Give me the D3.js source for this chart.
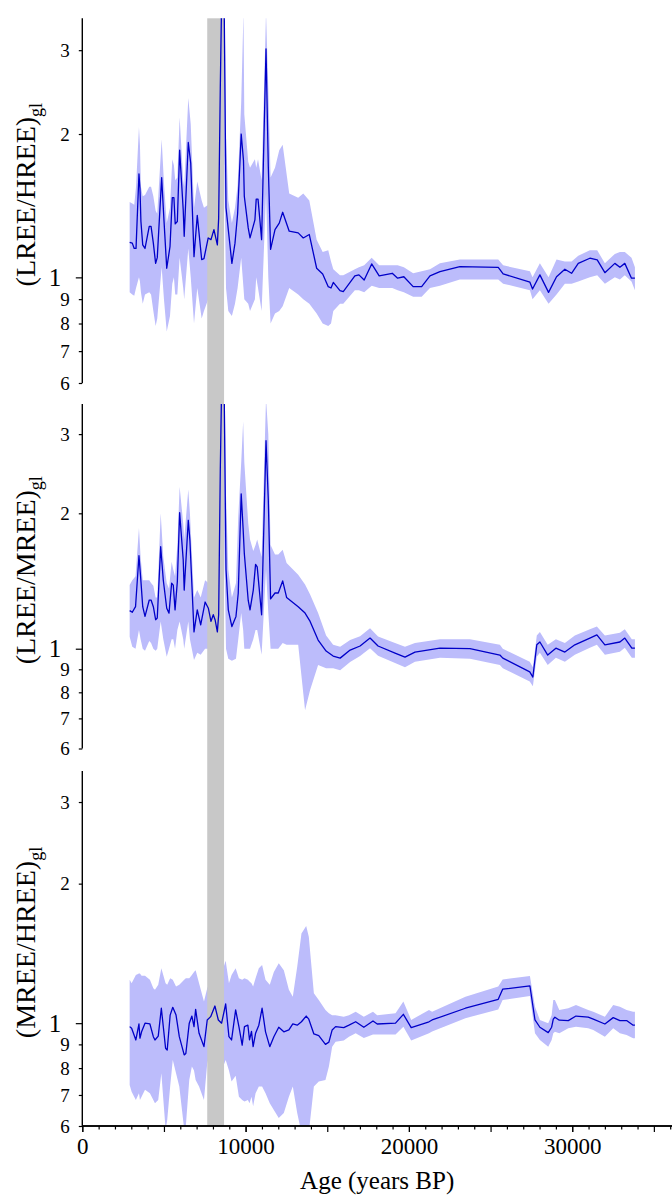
<!DOCTYPE html>
<html>
<head>
<meta charset="utf-8">
<script src="https://cdn.jsdelivr.net/npm/d3@7"></script>
<style>
body { margin: 0; background: #fff; }
svg { display: block; font-family: "Liberation Serif", "DejaVu Serif", serif; }
</style>
</head>
<body>
<svg width="672" height="1195"></svg>
<script>
// ---- data ----
var yTickVals = [0.6, 0.7, 0.8, 0.9, 1, 2, 3];
var xTickVals = [0, 10000, 20000, 30000];
var band = [7650, 8680];

// (LREE/HREE)gl
var age1 = [2900,3060,3180,3290,3470,3530,3590,3700,3840,4100,4210,4350,4490,4590,4860,5000,5170,5370,5510,5610,5690,5820,5960,6180,6240,6490,6640,6840,7040,7310,7450,7710,7880,8060,8270,8350,8450,8550,8680,8800,8940,9160,9350,9510,9730,9870,9920,10160,10270,10570,10650,10760,10980,11250,11390,11530,11800,12060,12270,12670,13220,13530,13900,14350,14720,15060,15230,15370,15780,15980,16690,16940,17260,17720,18180,18980,19310,19690,20260,20780,21290,21900,23120,25470,25770,27410,27570,28020,28550,29040,29550,29960,30370,31080,31530,32000,32610,32920,33220,33630,33840];
var mid1 = [1.185,1.18,1.15,1.15,1.65,1.54,1.31,1.17,1.15,1.28,1.28,1.18,1.07,1.10,1.62,1.32,1.045,1.16,1.47,1.47,1.295,1.31,1.85,1.385,1.22,1.92,1.735,1.105,1.35,1.09,1.095,1.21,1.2,1.26,1.17,1.33,2.5,4.2,4.0,1.4,1.26,1.07,1.18,1.36,2.0,1.76,1.48,1.27,1.21,1.32,1.46,1.46,1.2,3.02,1.71,1.145,1.26,1.30,1.37,1.25,1.24,1.21,1.23,1.045,1.016,0.956,0.95,0.976,0.938,0.933,1.007,1.012,0.987,1.067,1.007,1.02,0.996,1.003,0.956,0.956,1.007,1.028,1.053,1.05,1.017,0.977,0.945,1.012,0.93,1.003,1.04,1.02,1.07,1.097,1.088,1.023,1.07,1.05,1.07,0.996,0.996];
var lo1 = [0.93,0.92,0.915,0.95,1.0,0.98,0.93,0.88,0.92,0.93,0.92,0.85,0.79,0.82,1.05,0.9,0.77,0.83,0.97,1.0,0.92,0.92,1.1,0.95,0.9,1.15,1.0,0.8,0.95,0.82,0.85,0.9,0.92,0.95,0.9,1.0,1.4,2.0,1.8,0.95,0.85,0.83,0.88,0.95,1.1,0.95,0.9,0.88,0.85,0.9,1.0,0.95,0.85,1.5,1.0,0.8,0.84,0.85,0.87,0.95,0.92,0.9,0.88,0.84,0.8,0.79,0.8,0.85,0.88,0.88,0.94,0.94,0.93,0.96,0.95,0.95,0.94,0.93,0.91,0.91,0.95,0.96,0.99,0.99,0.97,0.94,0.9,0.94,0.88,0.92,0.97,0.97,0.98,1.0,1.01,0.97,1.0,0.99,1.01,0.98,0.94];
var hi1 = [1.44,1.43,1.42,1.55,2.07,1.9,1.55,1.48,1.49,1.55,1.55,1.48,1.38,1.36,1.95,1.58,1.3,1.4,1.77,1.72,1.6,1.62,2.17,1.6,1.55,2.38,2.1,1.4,1.59,1.45,1.4,1.42,1.44,1.47,1.45,1.6,3.6,5,5,2.0,1.45,1.3,1.4,1.56,2.33,3.6,2.2,1.75,1.7,1.77,1.7,1.77,1.6,3.6,2.5,1.62,1.7,1.85,1.9,1.5,1.47,1.5,1.45,1.2,1.13,1.14,1.08,1.04,1.01,1.01,1.04,1.05,1.06,1.1,1.06,1.06,1.06,1.05,1.02,1.03,1.04,1.07,1.09,1.09,1.06,1.03,1.0,1.07,1.0,1.09,1.08,1.08,1.11,1.14,1.14,1.07,1.12,1.13,1.13,1.1,1.05];

// (LREE/MREE)gl
var age2 = [2900,3060,3260,3470,3570,3700,3840,4100,4210,4350,4490,4590,4800,4960,5170,5310,5470,5570,5680,5820,5960,6180,6240,6490,6590,6840,7040,7250,7520,7720,7880,8020,8130,8270,8350,8450,8550,8680,8800,8940,9160,9410,9550,9730,9850,9920,10160,10270,10470,10610,10710,10980,11250,11390,11530,11800,12000,12270,12510,13220,13640,13950,14440,14930,15360,15790,16400,17010,17620,18110,19150,19760,20370,21900,23740,25570,25750,27400,27590,27830,28020,28500,29000,29550,30160,31080,31510,32000,32920,33220,33650,33840];
var mid2 = [1.215,1.205,1.24,1.61,1.446,1.24,1.18,1.283,1.283,1.24,1.16,1.17,1.686,1.42,1.23,1.2,1.398,1.385,1.22,1.41,2.007,1.575,1.35,1.93,1.74,1.09,1.22,1.13,1.27,1.23,1.15,1.19,1.16,1.09,1.19,2.5,4.2,4.0,1.5,1.22,1.12,1.18,1.33,2.21,1.84,1.63,1.28,1.22,1.35,1.54,1.52,1.19,2.9,2.14,1.29,1.33,1.33,1.415,1.3,1.24,1.2,1.15,1.045,0.988,0.963,0.953,0.993,1.014,1.056,1.014,0.978,0.958,0.983,1.003,1.0,0.968,0.953,0.888,0.865,1.02,1.035,0.968,1.003,0.983,1.02,1.056,1.073,1.02,1.035,1.056,1.003,1.003];
var lo2 = [1.063,1.01,1.0,1.1,1.05,1.0,0.99,1.04,1.03,1.0,0.99,1.0,1.15,1.05,0.96,1.0,1.05,1.05,1.0,1.1,1.15,1.05,1.0,1.15,1.05,0.944,0.98,0.97,1.0,1.0,0.96,0.97,0.96,0.94,1.0,1.5,2.0,1.8,1.0,0.95,0.94,0.95,1.05,1.2,1.1,1.0,1.0,1.0,1.05,1.1,1.1,0.97,1.5,1.2,1.0,1.0,1.0,1.03,1.02,1.02,0.73,0.81,0.92,0.905,0.905,0.896,0.934,0.963,1.003,0.965,0.93,0.91,0.935,0.955,0.95,0.92,0.905,0.845,0.825,0.96,0.98,0.92,0.955,0.935,0.97,1.005,1.02,0.97,0.985,1.005,0.955,0.955];
var hi2 = [1.386,1.42,1.45,1.855,1.6,1.42,1.42,1.42,1.4,1.38,1.3,1.3,2.0,1.6,1.4,1.36,1.56,1.5,1.45,1.7,2.29,1.9,1.75,2.26,2.0,1.3,1.35,1.3,1.42,1.4,1.35,1.38,1.36,1.3,1.4,3.6,5,5,2.2,1.5,1.3,1.4,1.97,2.59,3.2,2.6,1.9,1.75,1.65,1.7,1.75,1.6,3.6,3.0,1.7,1.62,1.62,1.66,1.55,1.46,1.39,1.32,1.2,1.07,1.02,1.01,1.045,1.066,1.11,1.065,1.03,1.01,1.03,1.05,1.05,1.02,1.0,0.935,0.91,1.07,1.09,1.02,1.05,1.03,1.07,1.105,1.12,1.07,1.085,1.105,1.05,1.05];

// (MREE/HREE)gl
var age3 = [2900,3020,3280,3470,3530,3630,3840,4140,4350,4450,4650,4840,5100,5200,5380,5540,5740,5940,6240,6340,6550,6710,6840,6940,7150,7450,7650,7860,8120,8330,8530,8780,8980,9140,9390,9590,9790,9930,10140,10240,10360,10460,10610,10810,11010,11220,11480,11730,12030,12340,12650,12890,13160,13420,13710,13870,14180,14480,14890,15100,15300,15510,16010,16330,16740,17240,17800,18060,19180,19660,20140,21230,21420,23460,25470,25740,27410,27720,28020,28530,28740,28840,28940,29210,29760,30230,30980,31290,32000,32510,32920,33330,33730,33840];
var mid3 = [0.983,0.975,0.92,0.996,0.928,0.958,1.0,0.996,0.935,0.92,0.938,1.077,0.883,0.875,1.041,1.082,1.041,0.935,0.854,0.86,1.0,1.036,0.983,1.071,0.951,0.89,1.016,1.033,1.089,1.016,1.0,1.1,0.935,0.92,1.068,0.983,0.897,0.983,0.99,0.92,0.96,0.89,0.951,0.99,1.077,0.958,0.89,0.935,0.98,0.958,0.967,0.996,0.99,1.007,1.036,1.02,0.948,0.94,0.9,0.91,0.967,0.983,0.978,0.99,1.007,0.98,1.011,0.996,1.0,1.045,0.978,1.007,1.016,1.077,1.126,1.184,1.203,1.016,0.98,0.954,0.98,1.02,1.03,1.015,1.013,1.036,1.03,1.02,0.996,1.028,1.013,1.013,0.99,0.99];
var lo3 = [0.736,0.711,0.683,0.706,0.683,0.694,0.718,0.706,0.683,0.672,0.683,0.78,0.59,0.618,0.73,0.833,0.78,0.73,0.59,0.6,0.754,0.806,0.79,0.754,0.73,0.683,0.819,0.868,0.89,0.812,0.79,0.833,0.79,0.748,0.77,0.694,0.683,0.678,0.683,0.672,0.694,0.662,0.706,0.73,0.73,0.706,0.672,0.65,0.624,0.64,0.694,0.73,0.64,0.58,0.58,0.58,0.73,0.748,0.754,0.806,0.89,0.912,0.917,0.935,0.951,0.929,0.945,0.945,0.945,0.983,0.917,0.951,0.96,1.025,1.07,1.122,1.145,0.951,0.92,0.89,0.92,0.951,0.958,0.951,0.975,0.983,0.975,0.967,0.935,0.975,0.951,0.943,0.928,0.928];
var hi3 = [1.24,1.22,1.27,1.28,1.28,1.265,1.265,1.24,1.19,1.18,1.21,1.314,1.22,1.21,1.25,1.24,1.2,1.21,1.24,1.25,1.25,1.27,1.29,1.3,1.22,1.113,1.19,1.24,1.28,1.23,1.28,1.364,1.22,1.27,1.314,1.25,1.24,1.25,1.24,1.23,1.22,1.2,1.25,1.314,1.335,1.24,1.21,1.29,1.347,1.3,1.18,1.14,1.324,1.562,1.62,1.537,1.16,1.122,1.068,1.05,1.04,1.04,1.033,1.04,1.059,1.033,1.059,1.04,1.05,1.113,1.016,1.068,1.059,1.14,1.2,1.243,1.264,1.085,1.016,1.0,1.04,1.122,1.122,1.068,1.077,1.095,1.068,1.059,1.033,1.095,1.085,1.068,1.059,1.059];

// ---- layout ----
var svg = d3.select("svg"),
    left = 82.3,
    right = 672;

var panels = [
  {top: 18.3, bottom: 383, name: "(LREE/HREE)", age: age1, mid: mid1, lo: lo1, hi: hi1},
  {top: 404, bottom: 748.5, name: "(LREE/MREE)", age: age2, mid: mid2, lo: lo2, hi: hi2},
  {top: 771, bottom: 1126, name: "(MREE/HREE)", age: age3, mid: mid3, lo: lo3, hi: hi3}
];

var x = d3.scaleLinear().domain([0, 36110]).range([left, right]);

var defs = svg.append("defs");
var fillLayer = svg.append("g"),
    bandLayer = svg.append("g"),
    lineLayer = svg.append("g"),
    axisLayer = svg.append("g");

panels.forEach(function(p, i) {
  p.y = d3.scaleLog().domain([0.6, 3.5]).range([p.bottom, p.top]);

  defs.append("clipPath").attr("id", "clip" + i)
    .append("rect")
    .attr("x", left).attr("y", p.top)
    .attr("width", right - left).attr("height", p.bottom - p.top);

  var rows = p.age.map(function(a, j) {
    return {age: a, mid: p.mid[j], lo: p.lo[j], hi: p.hi[j]};
  });

  var area = d3.area()
    .x(function(d) { return x(d.age); })
    .y0(function(d) { return p.y(d.lo); })
    .y1(function(d) { return p.y(d.hi); });

  var line = d3.line()
    .x(function(d) { return x(d.age); })
    .y(function(d) { return p.y(d.mid); });

  fillLayer.append("path")
    .datum(rows)
    .attr("clip-path", "url(#clip" + i + ")")
    .attr("fill", "#bcbcfb")
    .attr("d", area);

  lineLayer.append("path")
    .datum(rows)
    .attr("clip-path", "url(#clip" + i + ")")
    .attr("fill", "none")
    .attr("stroke", "#0000c8")
    .attr("stroke-width", 1.3)
    .attr("stroke-linejoin", "round")
    .attr("d", line);

  // y axis
  var yAxis = d3.axisLeft(p.y)
    .tickValues(yTickVals)
    .tickSize(3.5)
    .tickPadding(9)
    .tickFormat(function(d) { return d < 1 ? String(Math.round(d * 10)) : String(d); });

  var ga = axisLayer.append("g")
    .attr("transform", "translate(" + left + ",0)")
    .call(yAxis);
  ga.select(".domain").attr("d", "M0," + p.bottom + "V" + p.top)
    .attr("stroke", "#000").attr("stroke-width", 1.4);
  ga.selectAll(".tick line").attr("stroke-width", 1.2);
  ga.selectAll(".tick text")
    .attr("font-family", "Liberation Serif, serif")
    .attr("font-size", 19)
    .attr("fill", "#000");
  var major = ga.selectAll(".tick").filter(function(d) { return d === 1; });
  major.select("line").attr("x2", -6.5);
  major.select("text").attr("x", -21).attr("font-size", 25);

  // y label with subscript
  var cy = (p.top + p.bottom) / 2 - 6;
  var lab = axisLayer.append("text")
    .attr("transform", "translate(35," + cy + ") rotate(-90)")
    .attr("text-anchor", "middle")
    .attr("font-size", 28)
    .attr("fill", "#000")
    .text(p.name);
  lab.append("tspan")
    .attr("dy", 7)
    .attr("font-size", 18)
    .text("gl");
});

// shaded interval across all panels
bandLayer.append("rect")
  .attr("x", x(band[0]))
  .attr("width", x(band[1]) - x(band[0]))
  .attr("y", panels[0].top)
  .attr("height", panels[2].bottom - panels[0].top)
  .attr("fill", "#c8c8c8");

// x axis on bottom panel
var bottom = panels[2].bottom;
var minorTicks = d3.range(0, 36001, 1000).filter(function(v) { return v % 5000 !== 0; });
var midTicks = d3.range(0, 36001, 5000);

var gx = axisLayer.append("g")
  .attr("transform", "translate(0," + bottom + ")");
gx.call(d3.axisBottom(x).tickValues(minorTicks).tickSize(3.5).tickFormat(""));
gx.append("g").call(d3.axisBottom(x).tickValues(midTicks).tickSize(6).tickFormat(""));
gx.append("g").call(d3.axisBottom(x).tickValues(xTickVals).tickSize(6).tickPadding(6)
  .tickFormat(function(d) { return String(d); }));
gx.selectAll(".domain").attr("d", "M" + left + ",0H" + right);
gx.selectAll(".tick line").attr("stroke-width", 1.2);
gx.select(".domain").attr("stroke-width", 1.4);
gx.selectAll(".tick text")
  .attr("font-family", "Liberation Serif, serif")
  .attr("font-size", 23)
  .attr("fill", "#000");

axisLayer.append("text")
  .attr("x", (left + right) / 2)
  .attr("y", 1189)
  .attr("text-anchor", "middle")
  .attr("font-size", 25)
  .attr("fill", "#000")
  .text("Age (years BP)");
</script>
</body>
</html>
